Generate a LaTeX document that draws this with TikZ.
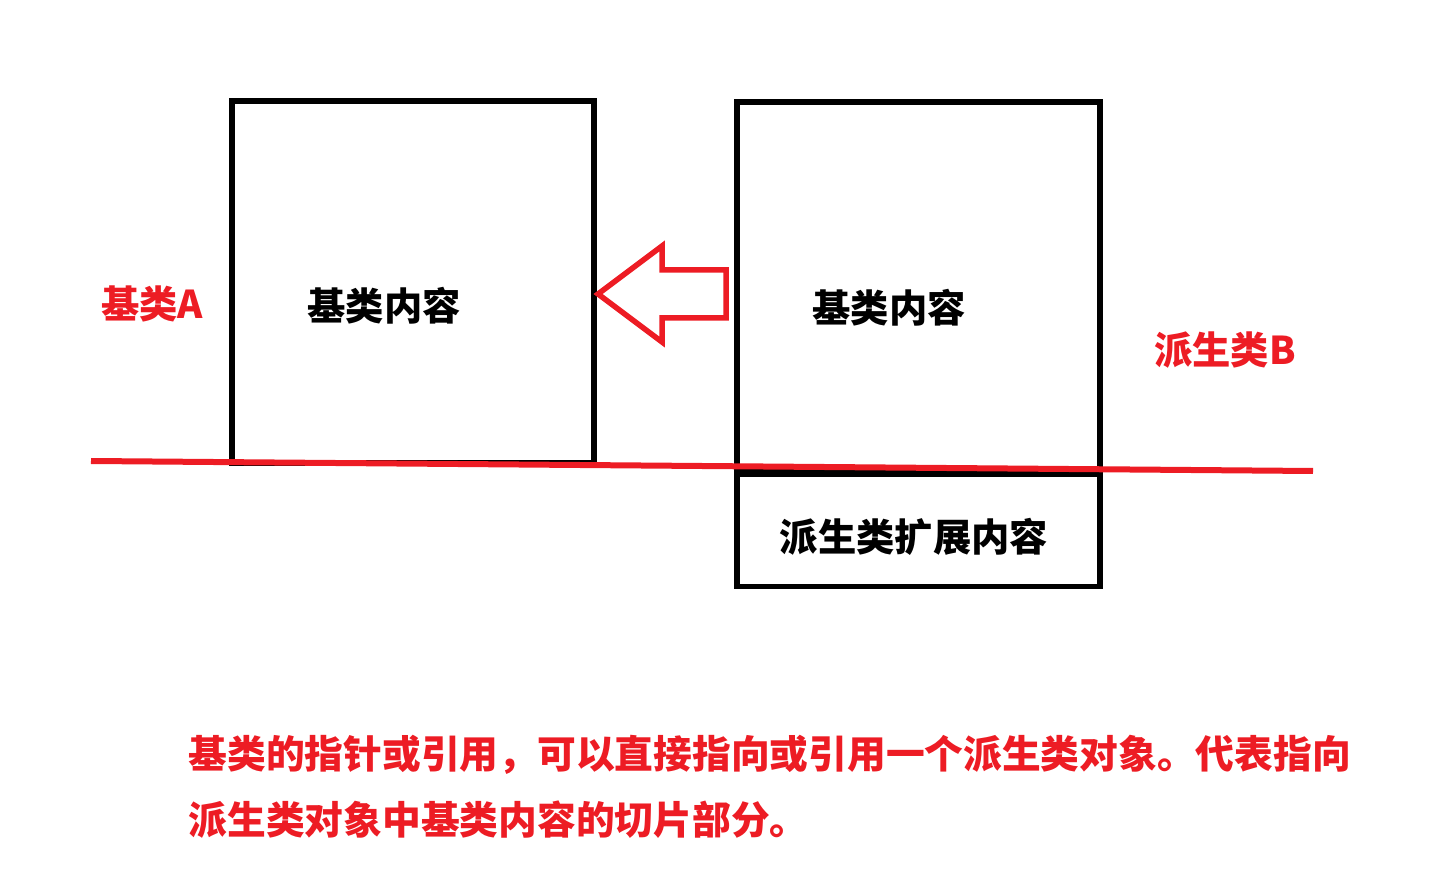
\documentclass[tikz,border=0pt]{standalone}
\usepackage{fontspec}
\newfontfamily\cjk{Noto Sans CJK SC}
\definecolor{paintred}{HTML}{ED1C24}
\begin{document}
\begin{tikzpicture}[x=0.02cm, y=-0.02cm, thick]
  % Define styles
  \tikzstyle{box} = [draw=black, line width=0.11cm, inner sep=0pt]
  \tikzstyle{boxtext} = [inner sep=0pt, font=\cjk\bfseries\fontsize{21.8pt}{26pt}\selectfont]
  \tikzstyle{redtext} = [boxtext, text=paintred]
  \tikzstyle{redline} = [draw=paintred, line width=0.12cm]
  \useasboundingbox (0,0) rectangle (1431,871);

  % Base class A
  \node[box, minimum width=7.25cm, minimum height=7.24cm] (baseA) at (413,282) {};
  \node[boxtext] (contentA) at (384,306) {基类内容};
  \node[redtext] (nameA) at (152,304) {基类A};

  % Derived class B
  \node[box, minimum width=7.26cm, minimum height=7.34cm] (derivedB) at (918.5,285.5) {};
  \node[box, minimum width=7.26cm, minimum height=2.24cm, anchor=north] (extB) at (derivedB.south) {};
  \node[boxtext] (contentB) at (889,308) {基类内容};
  \node[boxtext] (extText) at (914,537) {派生类扩展内容};
  \node[redtext] (nameB) at (1225,350) {派生类B};

  % Slice line
  \coordinate (lineL) at (91,461);
  \coordinate (lineR) at (1313,471);
  \draw[redline] (lineL) -- (lineR);

  % Hollow arrow from B to A
  \draw[redline, line width=0.11cm, line join=miter] (598,294) -- (662,246) -- (662,270) -- (726,270)
    -- (726,318) -- (662,318) -- (662,342) -- cycle;

  % Note
  \node[redtext, anchor=west, font=\cjk\bfseries\fontsize{22.05pt}{26pt}\selectfont] (note1) at (188,755) {基类的指针或引用，可以直接指向或引用一个派生类对象。代表指向};
  \node[redtext, anchor=west, font=\cjk\bfseries\fontsize{22.05pt}{26pt}\selectfont] (note2) at (188,820) {派生类对象中基类内容的切片部分。};
\end{tikzpicture}
\end{document}
